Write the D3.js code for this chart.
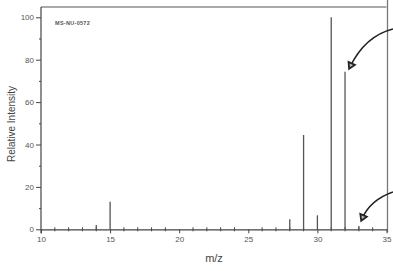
<!DOCTYPE html>
<html><head><meta charset="utf-8">
<script src="https://cdn.jsdelivr.net/npm/d3@7"></script>
<style>html,body{margin:0;padding:0;background:#fff;}svg{display:block;}</style>
</head><body>
<script>
const mz = [14, 15, 28, 29, 30, 31, 32, 33];
const intensity = [2, 13, 4.7, 44.5, 6.6, 100, 74.3, 1.5];
const xTicks = [10, 15, 20, 25, 30, 35];
const yTicks = [0, 20, 40, 60, 80, 100];
const codeLabel = "MS-NU-0572";

const W = 393, H = 271;
const svg = d3.select("body").append("svg").attr("width", W).attr("height", H);
const x = d3.scaleLinear().domain([10, 35]).range([41, 386.5]);
const y = d3.scaleLinear().domain([0, 100]).range([229.3, 17.3]);
const ink = "#444";
const font = "Liberation Sans, Arial, sans-serif";

// frame top and right
svg.append("line").attr("x1", x(10)).attr("x2", x(35)).attr("y1", 7).attr("y2", 7).attr("stroke", "#555").attr("stroke-width", 1.2);
svg.append("line").attr("x1", x(35)+1).attr("x2", x(35)+1).attr("y1", 0).attr("y2", y(0)+3).attr("stroke", "#777").attr("stroke-width", 1.3);

// y axis
const yAxis = svg.append("g").attr("transform", `translate(${x(10)},0)`)
  .call(d3.axisLeft(y).tickValues(yTicks).tickSize(5).tickSizeOuter(0).tickPadding(2));
yAxis.select(".domain").attr("stroke", ink).attr("stroke-width", 1.2).attr("d", `M0,7V${y(0)+4}`);
yAxis.selectAll(".tick line").attr("stroke", ink);
yAxis.selectAll(".tick text").attr("font-family", font).attr("font-size", 8).attr("fill", "#555");
svg.append("g").attr("transform", `translate(${x(10)},0)`)
  .call(d3.axisLeft(y).tickValues([10,30,50,70,90]).tickSize(2).tickFormat(""))
  .call(g => { g.select(".domain").remove(); g.selectAll("line").attr("stroke", ink); });

// x axis
const xAxis = svg.append("g").attr("transform", `translate(0,${y(0)})`)
  .call(d3.axisBottom(x).tickValues(xTicks).tickSize(4).tickSizeOuter(0).tickPadding(3));
xAxis.select(".domain").attr("stroke", ink).attr("stroke-width", 1.2);
xAxis.selectAll(".tick line").attr("stroke", ink);
xAxis.selectAll(".tick text").attr("font-family", font).attr("font-size", 8).attr("fill", "#555");
const minor = d3.range(11, 35).filter(v => v % 5 !== 0);
svg.append("g").attr("transform", `translate(0,${y(0)})`)
  .selectAll("line").data(minor).join("line")
  .attr("x1", d => x(d)).attr("x2", d => x(d)).attr("y1", -2).attr("y2", 2).attr("stroke", ink);

// peaks
svg.append("g").selectAll("line").data(mz).join("line")
  .attr("x1", d => x(d)).attr("x2", d => x(d))
  .attr("y1", y(0)).attr("y2", (d, i) => y(intensity[i]))
  .attr("stroke", "#555").attr("stroke-width", 1.3);

// labels
svg.append("text").attr("x", 55).attr("y", 25).attr("font-family", font).attr("font-size", 5.5)
  .attr("font-weight", "bold").attr("letter-spacing", 0.3).attr("fill", "#555").text(codeLabel);
svg.append("text").attr("transform", "translate(15,124) rotate(-90)").attr("text-anchor", "middle")
  .attr("font-family", font).attr("font-size", 10).attr("fill", "#444").text("Relative Intensity");
svg.append("text").attr("x", 214).attr("y", 262).attr("text-anchor", "middle")
  .attr("font-family", font).attr("font-size", 11).attr("fill", "#444").text("m/z");

// hand-drawn arrows
const arrows = [
  {from: [393, 29], c: [365, 36], to: [350, 67]},
  {from: [393, 192], c: [370, 200], to: [362, 219]}
];
arrows.forEach(a => {
  svg.append("path").attr("d", `M${a.from}Q${a.c} ${a.to}`).attr("fill", "none")
    .attr("stroke", "#222").attr("stroke-width", 1.6);
  const ang = Math.atan2(a.to[1]-a.c[1], a.to[0]-a.c[0]);
  const L = 6, Wd = 3.5;
  const tip = [a.to[0] + Math.cos(ang)*2, a.to[1] + Math.sin(ang)*2];
  const b = [tip[0] - Math.cos(ang)*L, tip[1] - Math.sin(ang)*L];
  const p1 = [b[0] + Math.sin(ang)*Wd, b[1] - Math.cos(ang)*Wd];
  const p2 = [b[0] - Math.sin(ang)*Wd, b[1] + Math.cos(ang)*Wd];
  svg.append("path").attr("d", `M${tip}L${p1}L${p2}Z`).attr("fill", "#bbb").attr("stroke", "#222").attr("stroke-width", 1.8);
});
</script>
</body></html>
